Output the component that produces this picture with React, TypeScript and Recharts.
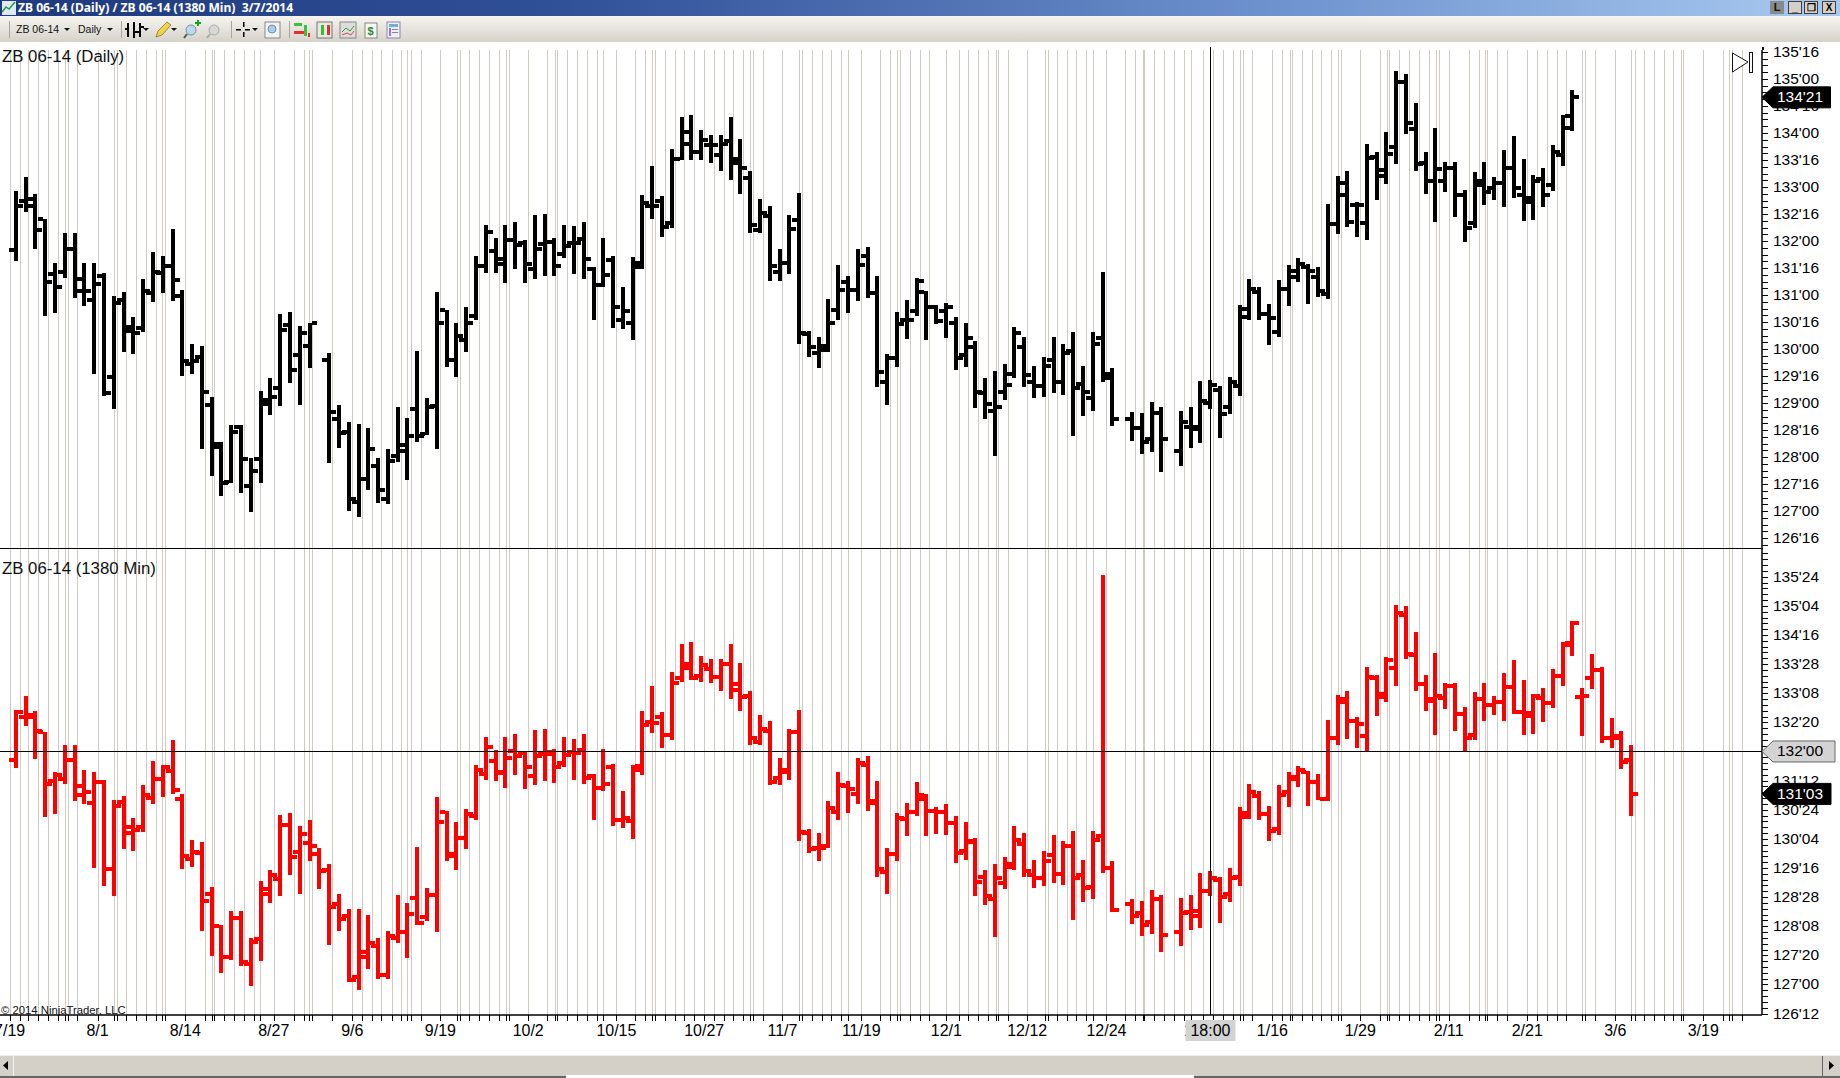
import React from 'react';
import { ComposedChart, Bar, XAxis, YAxis, ReferenceLine, CartesianGrid } from 'recharts';

const dailyOpen = [131.84,132.75,132.77,132.40,131.38,131.43,131.86,131.07,130.90,131.35,
129.49,130.90,130.40,130.38,131.03,131.41,131.54,130.99,129.72,129.85,
128.97,128.25,127.54,128.56,127.47,127.97,129.05,129.28,130.44,129.88,
130.06,null,129.80,128.71,128.47,127.16,127.60,127.84,127.22,128.02,
128.12,128.88,128.42,128.94,130.72,129.79,130.16,130.61,131.53,131.81,
131.57,132.01,131.96,131.49,131.94,131.99,131.76,131.97,132.03,131.48,
131.18,131.64,130.54,130.49,131.60,132.65,132.75,132.34,133.51,133.80,
133.64,133.77,133.59,133.86,133.44,133.17,132.20,132.46,131.43,131.59,
132.39,130.27,129.93,129.99,130.72,131.25,131.09,131.72,131.04,129.38,
129.83,130.54,130.71,131.06,130.77,130.71,130.49,129.88,130.03,129.18,
128.85,129.20,129.53,130.03,129.38,129.31,129.80,129.38,129.97,129.36,
129.10,130.20,129.47,null,128.71,128.53,128.34,128.81,null,128.12,
128.56,128.51,129.00,129.25,128.92,129.31,130.60,131.05,130.64,130.32,
131.12,131.44,131.51,131.34,131.01,132.32,133.07,132.66,132.34,133.55,
133.21,133.75,134.94,134.08,133.44,133.12,133.12,133.36,132.86,132.34,
133.12,132.99,133.08,133.36,132.86,132.79,133.14,133.03,133.60,134.31];
const dailyHigh = [132.93,133.18,132.87,132.41,131.59,132.14,132.14,131.60,131.59,131.40,
130.99,131.05,130.59,131.29,131.79,131.73,132.23,131.09,130.10,130.05,
129.12,128.27,128.59,128.59,127.99,129.23,129.46,130.64,130.68,130.42,
130.49,null,129.92,128.96,128.64,128.62,128.53,127.99,128.14,128.92,
128.73,129.96,129.09,131.05,130.73,130.49,130.77,131.73,132.29,132.05,
132.29,132.36,132.01,132.49,132.50,132.05,132.29,132.28,132.36,131.51,
132.05,131.73,131.14,131.70,132.86,133.38,132.83,133.70,134.29,134.33,
134.05,133.97,133.97,134.29,133.88,133.29,132.77,132.64,131.86,132.49,
132.88,130.33,130.23,130.92,131.55,131.36,131.86,131.88,131.36,129.90,
130.68,130.90,131.32,131.08,130.81,130.86,130.60,130.49,130.14,129.46,
129.59,129.73,130.40,130.23,129.68,129.86,130.22,130.09,130.31,129.68,
130.31,131.42,129.64,null,128.83,128.81,129.01,128.92,null,128.86,
128.92,129.40,129.42,129.31,129.49,130.81,131.29,131.14,130.83,131.27,
131.55,131.68,131.58,131.51,132.68,133.20,133.29,132.73,133.79,133.64,
134.01,135.14,135.10,134.55,133.64,134.10,133.47,133.47,132.95,133.27,
133.47,133.18,133.68,133.95,133.51,133.23,133.36,133.77,134.33,134.79];
const dailyLow = [131.64,132.54,131.86,130.62,130.67,131.30,130.93,130.80,129.53,129.12,
128.90,129.93,129.90,130.31,130.86,131.04,130.90,129.49,129.54,128.15,
127.65,127.27,127.52,127.34,126.99,127.52,128.77,128.93,129.36,128.95,
129.65,null,127.88,128.17,126.99,126.90,127.38,127.15,127.12,127.90,
127.58,128.27,128.40,128.15,129.67,129.49,129.93,130.54,131.40,131.40,
131.21,131.49,131.21,131.30,131.36,131.34,131.68,131.39,131.30,130.52,
131.14,130.39,130.36,130.16,131.49,132.40,132.08,132.23,133.49,133.50,
133.49,133.45,133.30,133.12,132.86,132.14,132.14,131.26,131.26,131.39,
130.08,129.84,129.65,129.93,130.54,130.67,130.89,130.94,129.31,128.95,
129.67,130.17,130.62,130.17,130.46,130.21,129.62,129.68,128.90,128.71,
128.02,129.07,129.46,129.31,129.09,129.12,129.18,129.15,128.39,128.76,
128.84,129.39,128.56,null,128.30,128.06,128.08,127.71,null,127.84,
128.17,128.25,128.89,128.34,128.80,129.12,130.54,130.53,130.08,130.21,
130.80,131.23,130.84,130.95,130.93,132.13,132.26,132.08,132.02,132.76,
133.04,133.41,133.99,133.30,132.86,132.36,132.91,132.45,131.99,132.23,
132.67,132.76,132.63,132.80,132.36,132.39,132.63,132.91,133.39,134.04];
const dailyClose = [132.65,132.65,132.21,131.25,131.15,131.86,131.30,131.07,131.21,129.19,
130.86,130.34,130.30,131.07,131.43,131.54,131.27,129.78,129.77,129.21,
128.19,127.52,128.47,127.97,127.75,128.98,129.12,130.35,129.62,130.29,
130.48,null,128.84,128.44,127.23,127.60,128.15,127.38,127.93,128.22,
128.38,128.38,128.93,130.49,129.79,130.25,130.48,131.53,132.16,131.66,
132.01,131.92,131.57,131.85,131.99,131.53,131.90,131.97,131.67,131.18,
131.37,130.78,130.71,131.51,132.71,132.65,132.26,133.51,134.02,133.64,
133.87,133.77,133.79,133.52,133.35,132.29,132.51,131.53,131.59,132.23,
130.29,130.03,130.05,130.49,131.09,131.09,131.55,131.04,129.57,129.84,
130.47,130.54,131.26,130.77,130.52,130.77,129.83,130.20,129.20,128.99,
128.93,129.33,130.29,129.51,129.31,129.69,129.38,129.92,129.27,129.21,
130.10,129.53,128.71,null,128.53,128.28,128.81,128.34,null,128.65,
128.56,129.04,129.34,128.79,129.38,130.75,131.12,130.64,130.57,131.12,
131.34,131.58,131.44,131.08,132.32,132.86,132.36,132.66,133.53,133.31,
133.62,134.94,134.18,133.42,133.12,133.34,133.36,132.86,132.25,133.03,
132.90,133.08,133.36,132.99,132.73,133.12,132.86,133.64,134.10,134.66];

const minOpen = [131.82,132.74,132.79,132.41,131.36,131.41,131.82,131.07,130.90,131.34,
129.48,130.91,130.38,130.37,131.01,131.40,131.59,130.99,129.70,129.83,
128.95,128.25,127.60,128.42,127.44,127.97,129.04,129.27,130.43,129.85,
130.04,129.80,129.46,128.72,128.46,127.15,127.60,127.83,127.21,127.99,
128.12,128.86,128.44,128.93,130.71,129.76,130.15,130.61,131.52,131.80,
131.54,132.00,131.96,131.48,131.94,131.99,131.76,131.99,132.03,131.47,
131.21,131.66,130.52,130.50,131.60,132.64,132.75,132.35,133.57,133.79,
133.62,133.77,133.59,133.87,133.44,133.19,132.21,132.45,131.43,131.60,
132.41,130.26,129.92,129.98,130.71,131.26,131.08,131.71,130.90,129.41,
129.81,130.56,130.71,131.06,130.73,130.71,130.46,129.86,130.05,129.30,
128.83,129.17,129.52,130.01,129.35,129.28,129.77,129.37,129.97,129.35,
129.09,130.18,129.50,null,128.72,128.53,128.33,128.83,null,128.12,
128.56,128.48,129.00,129.24,128.94,129.30,130.59,131.04,130.65,130.33,
131.13,131.40,131.55,131.34,130.99,132.28,133.06,132.65,132.34,133.57,
133.16,133.79,134.92,134.06,133.44,133.12,133.14,133.40,132.80,132.35,
133.12,132.99,133.06,133.38,132.84,132.82,133.14,133.03,133.61,134.32,
133.16,133.57,133.74,132.28,132.34,131.81];
const minHigh = [132.88,133.18,132.86,132.42,131.57,132.13,132.13,131.61,131.57,131.38,
130.95,131.04,130.58,131.29,131.79,131.72,132.24,131.08,130.11,130.05,
129.10,128.27,128.57,128.57,127.99,129.23,129.45,130.63,130.67,130.41,
130.52,129.92,129.58,128.95,128.63,128.61,128.50,127.99,128.14,128.91,
128.74,129.94,129.08,131.03,130.73,130.48,130.76,131.72,132.30,132.04,
132.30,132.37,132.02,132.47,132.48,132.05,132.31,132.27,132.37,131.51,
132.05,131.73,131.15,131.71,132.87,133.40,132.84,133.70,134.30,134.35,
134.04,133.98,133.98,134.30,133.89,133.29,132.78,132.65,131.86,132.48,
132.89,130.33,130.25,130.93,131.56,131.36,131.86,131.90,131.36,129.93,
130.68,130.89,131.34,131.09,130.80,130.87,130.61,130.48,130.14,129.46,
129.58,129.73,130.40,130.25,129.67,129.86,130.21,130.07,130.29,129.67,
130.29,135.78,129.65,null,128.83,128.79,129.02,128.92,null,128.85,
128.92,129.39,129.43,129.30,129.50,130.80,131.30,131.15,130.83,131.28,
131.55,131.68,131.58,131.51,132.67,133.21,133.29,132.73,133.81,133.64,
134.02,135.14,135.12,134.56,133.64,134.11,133.48,133.48,132.95,133.27,
133.48,133.18,133.68,133.96,133.53,133.23,133.36,133.76,134.34,134.79,
133.36,134.09,133.81,132.71,132.45,132.13];
const minLow = [131.63,132.53,131.84,130.60,130.66,131.29,130.92,130.88,129.50,129.10,
128.88,129.91,129.87,130.28,130.86,131.03,131.09,129.46,129.53,128.13,
127.62,127.25,127.51,127.38,126.97,127.51,128.75,128.90,129.35,128.95,
129.63,129.05,127.85,128.15,127.07,126.87,127.34,127.12,127.10,127.88,
127.55,128.26,128.37,128.13,129.66,129.46,129.91,130.54,131.37,131.37,
131.20,131.48,131.20,131.29,131.36,131.31,131.66,131.38,131.29,130.52,
131.14,130.39,130.35,130.13,131.49,132.39,132.06,132.24,133.48,133.54,
133.48,133.46,133.29,133.12,132.86,132.13,132.13,131.27,131.27,131.38,
130.07,129.81,129.64,129.92,130.54,130.67,130.88,130.73,129.30,128.95,
129.66,130.18,130.61,130.18,130.22,130.20,129.60,129.66,128.89,128.70,
128.01,129.04,129.46,129.30,129.06,129.10,129.17,129.13,128.37,128.77,
128.83,129.39,128.55,null,128.29,128.03,128.08,127.69,null,127.82,
128.16,128.22,128.89,128.31,128.78,129.11,130.55,130.52,130.07,130.20,
130.80,131.23,130.82,130.95,130.93,132.13,132.26,132.06,132.00,132.77,
133.05,133.41,133.98,133.29,132.86,132.36,132.92,132.45,131.98,132.23,
132.66,132.77,132.64,132.80,132.36,132.38,132.64,132.92,133.39,134.04,
132.32,133.33,132.17,132.06,131.63,130.60];
const minClose = [132.85,132.74,132.43,131.31,131.49,131.82,131.26,131.14,131.35,129.48,
130.83,130.25,130.31,131.07,131.41,131.66,131.18,129.76,129.85,128.80,
128.25,127.60,128.42,127.49,127.92,128.95,129.34,130.43,129.74,130.22,
129.98,129.43,128.67,128.40,127.10,127.70,127.90,127.21,128.05,128.12,
128.52,128.31,128.93,130.48,129.80,130.15,130.65,131.61,132.09,131.55,
131.86,131.91,131.66,131.91,131.94,131.66,131.92,131.96,131.43,131.21,
131.31,130.52,130.58,131.69,132.56,132.62,132.36,133.46,133.87,133.57,
133.85,133.59,133.87,133.31,133.16,132.29,132.49,131.34,131.56,132.41,
130.27,129.90,129.92,130.78,131.28,131.19,131.75,130.93,129.48,129.81,
130.58,130.71,130.99,130.73,130.71,130.46,129.83,130.07,129.20,128.90,
129.29,129.58,130.10,129.43,129.28,129.64,129.37,129.97,129.28,129.07,
130.10,129.50,128.59,null,128.46,128.27,128.83,128.07,null,128.53,
128.58,129.00,129.28,128.87,129.28,130.68,131.13,130.65,130.29,131.06,
131.45,131.60,131.34,130.99,132.28,133.12,132.65,132.58,133.59,133.23,
133.96,134.97,134.09,133.44,133.08,133.18,133.40,132.80,132.28,133.12,
132.99,133.06,133.38,132.84,132.76,133.18,133.03,133.61,134.28,134.75,
133.20,133.74,132.28,132.28,131.77,131.09];

// session slots (bar number on the time axis) of the vertical grid lines
const gridSlots = [-0.63,0.39,1.27,2.29,3.31,4.33,5.07,5.35,6.30,8.35,10.06,10.38,11.30,12.32,13.33,14.35,14.98,15.27,17.31,19.35,20.02,20.27,21.29,22.31,23.32,24.34,24.97,26.35,28.39,29.41,29.94,30.26,32.33,34.37,35.32,36.34,37.35,38.38,39.37,40.0,40.32,41.34,43.37,45.07,45.37,46.33,47.34,48.37,49.39,50.06,50.34,52.34,
54.28,55.06,55.30,56.32,57.34,58.37,59.35,60.01,61.35,63.29,64.31,65.0,65.32,66.35,67.37,68.28,69.30,70.32,71.34,72.36,73.28,74.30,75.04,75.31,76.33,78.31,80.03,80.35,81.37,82.39,83.30,84.32,85.03,86.37,88.29,89.31,90.02,90.34,91.32,92.34,93.33,95.05,96.38,97.30,98.31,99.33,100.08,100.36,101.38,103.31,105.11,105.43,106.4,107.42,108.31,109.33,110.07,111.41,113.34,114.36,115.09,115.28,116.3,117.3,118.33,119.35,120.03,121.3,122.3,123.33,124.35,125.09,125.37,126.32,128.36,129.38,130.15,130.4,131.35,132.37,133.36,134.38,135.08,135.39,137.33,139.38,140.11,140.28,141.31,142.33,143.35,144.36,145.07,145.38,146.37,148.41,149.43,150.03,150.31,151.33,152.35,154.39,155.41,156.36,157.38,158.4,160.02,160.33,161.36,163.38,165.02,165.36,166.34,167.36,168.38,169.3,170.06,170.32,172.37,174.35,175.03,175.33,176.35];
const dateLabels: [number, string][] = [[-0.63,'7/19'],[8.35,'8/1'],[17.31,'8/14'],[26.35,'8/27'],[34.37,'9/6'],[43.37,'9/19'],[52.34,'10/2'],[61.35,'10/15'],[70.32,'10/27'],[78.31,'11/7'],[86.37,'11/19'],[95.05,'12/1'],[103.31,'12/12'],[111.41,'12/24'],[128.36,'1/16'],[137.33,'1/29'],[146.37,'2/11'],[154.39,'2/21'],[163.38,'3/6'],[172.37,'3/19']];
const hiddenDateSlot = 120.45;
const hiddenDate = '1/3';
const cursorSlot = 122.03;
const cursorTime = '18:00';
const cursorPrice = 132;
const lastDaily = 134.66;
const lastMin = 131.09;
const lastDailyText = "134'21";
const lastMinText = "131'03";

const slotDomain = [-1.614, 178.37];
const dailyDomain = [126.315, 135.537];
const minDomain = [126.345, 136.345];

const buildTable = (o: any[], h: any[], l: any[], c: any[]) =>
  o.map((v, i) => ({ slot: i, open: v, high: h[i], low: l[i], close: c[i], range: [l[i], h[i]] })).filter((r) => r.open !== null);
const dailyRows = buildTable(dailyOpen, dailyHigh, dailyLow, dailyClose);
const minRows = buildTable(minOpen, minHigh, minLow, minClose);

const range = (from: number, to: number, step: number) => {
  const out: number[] = [];
  for (let k = 0; from + k * step <= to + 1e-9; k++) out.push(from + k * step);
  return out;
};
const fmt = (v: number) => {
  const whole = Math.floor(v + 1e-9);
  const t = Math.round((v - whole) * 32);
  return `${whole}'${String(t).padStart(2, '0')}`;
};
const FONT = '"Liberation Sans", Arial, sans-serif';

const OhlcShape = (color: string, stem: number, thick: number, arm: number) => (p: any) => {
  const { x, y, width, height, payload } = p;
  const cx = Math.round(x + width / 2);
  const top = Math.min(y, y + height);
  const h = Math.abs(height);
  const k = h / (payload.high - payload.low);
  const oy = top + (payload.high - payload.open) * k;
  const cy = top + (payload.high - payload.close) * k;
  const left = cx - Math.floor(stem / 2);
  return (
    <g shapeRendering="crispEdges" fill={color}>
      <rect x={left} y={Math.round(top)} width={stem} height={Math.max(1, Math.round(h))} />
      <rect x={left - arm} y={Math.round(oy - thick / 2)} width={arm} height={thick} />
      <rect x={left + stem} y={Math.round(cy - thick / 2)} width={arm} height={thick} />
    </g>
  );
};

const Flag = ({ x, y, text, fill, ink, edge, right }: any) => {
  const tip = x;
  const body = x + 11;
  return (
    <g>
      <polygon
        points={`${tip},${y} ${body},${y - 10.5} ${right},${y - 10.5} ${right},${y + 10.5} ${body},${y + 10.5}`}
        fill={fill}
        stroke={edge}
        strokeWidth={1}
      />
      <text x={body + 4} y={y + 5} fontFamily={FONT} fontSize={15.5} fill={ink}>
        {text}
      </text>
    </g>
  );
};

const priceTick = (majors: Set<string>, flags: any) => (p: any) => {
  const v = p.payload.value;
  const key = v.toFixed(3);
  const f = flags[key];
  if (f && p.index >= p.visibleTicksCount - Object.keys(flags).length) {
    return <Flag x={p.x} y={p.y} {...f} />;
  }
  return (
    <g>
      <line x1={p.x} x2={p.x + 6} y1={Math.round(p.y) + 0.5} y2={Math.round(p.y) + 0.5} stroke="#000" />
      {majors.has(key) ? (
        <text x={p.x + 11} y={p.y + 5} fontFamily={FONT} fontSize={15.5} fill="#000">
          {fmt(v)}
        </text>
      ) : null}
    </g>
  );
};

const labelBySlot = new Map(dateLabels);

const timeTick = (p: any) => {
  const v = p.payload.value;
  if (v === cursorSlot) {
    return (
      <g>
        <rect x={p.x - 25} y={p.y + 5} width={50} height={21} fill="#d3d3d3" />
        <text x={p.x} y={p.y + 21} textAnchor="middle" fontFamily={FONT} fontSize={16} fill="#000">
          {cursorTime}
        </text>
      </g>
    );
  }
  if (v === hiddenDateSlot) {
    return (
      <text x={p.x} y={p.y + 21} textAnchor="middle" fontFamily={FONT} fontSize={16} fill="#000">
        {hiddenDate}
      </text>
    );
  }
  const label = labelBySlot.get(v);
  return (
    <g>
      <line x1={Math.round(p.x) + 0.5} x2={Math.round(p.x) + 0.5} y1={p.y} y2={p.y + 6} stroke="#000" />
      {label ? (
        <text x={p.x} y={p.y + 21} textAnchor="middle" fontFamily={FONT} fontSize={16} fill="#000">
          {label}
        </text>
      ) : null}
    </g>
  );
};

// vertical session lines, placed through the chart's own x scale
const gridXs = ({ xAxis, offset }: any) =>
  gridSlots.map((s) => {
    const scale = xAxis && typeof xAxis.scale === 'function' ? xAxis.scale : null;
    const x = scale ? scale(s) : offset.left + ((s - slotDomain[0]) / (slotDomain[1] - slotDomain[0])) * offset.width;
    return Math.round(x) + 0.5;
  });

const dailyMajors = range(126.5, 135.5, 0.5);
const dailyTicks = [...range(126.375, 135.5, 0.125), lastDaily];
const minMajors = range(126.375, 135.75, 0.625).filter((v) => v !== cursorPrice);
const minTicks = [...range(126.375, 136.25, 0.125).filter((v) => v !== cursorPrice), cursorPrice, lastMin];

const dailyFlags = {
  [lastDaily.toFixed(3)]: { text: lastDailyText, fill: '#000', ink: '#fff', edge: '#000', right: 1830.5 },
};
const minFlags = {
  [cursorPrice.toFixed(3)]: { text: fmt(cursorPrice), fill: '#d3d3d3', ink: '#000', edge: '#666', right: 1835 },
  [lastMin.toFixed(3)]: { text: lastMinText, fill: '#000', ink: '#fff', edge: '#000', right: 1831 },
};

const abs = (left: number, top: number, width: number, height: number, extra: any = {}) => ({
  position: 'absolute' as const,
  left,
  top,
  width,
  height,
  ...extra,
});

const WinButton = ({ left, glyph }: { left: number; glyph: string }) => (
  <div
    style={abs(left, 1, 14, 13, {
      background: '#d4d0c8',
      border: '1px solid #404040',
      boxSizing: 'border-box',
      font: `bold 10px/11px ${FONT}`,
      textAlign: 'center',
      color: '#000',
    })}
  >
    {glyph}
  </div>
);

const Toolbar = () => (
  <svg style={abs(0, 16, 1840, 26)} width={1840} height={26}>
    <defs>
      <linearGradient id="tb" x1="0" y1="0" x2="0" y2="1">
        <stop offset="0" stopColor="#f6f5f0" />
        <stop offset="1" stopColor="#d5d2ca" />
      </linearGradient>
    </defs>
    <rect width={1840} height={26} fill="url(#tb)" />
    {[9, 121, 231, 289].map((x) => (
      <line key={x} x1={x + 0.5} x2={x + 0.5} y1={5} y2={22} stroke="#a8a59d" />
    ))}
    <text x={16} y={17} fontFamily={FONT} fontSize={10.5} fill="#111">ZB 06-14</text>
    <text x={78} y={17} fontFamily={FONT} fontSize={10.5} fill="#111">Daily</text>
    {[64, 107, 143, 171, 252].map((x) => (
      <polygon key={x} points={`${x},12 ${x + 6},12 ${x + 3},15`} fill="#111" />
    ))}
    <g fill="#000">
      <rect x={127} y={7} width={2} height={14} />
      <rect x={133} y={6} width={2} height={16} />
      <rect x={139} y={7} width={2} height={14} />
      <rect x={125} y={12} width={4} height={2} />
      <rect x={135} y={15} width={4} height={2} />
      <rect x={141} y={10} width={3} height={2} />
    </g>
    <polygon points="156,21 158,15 167,6 171,9 162,19" fill="#f2d24a" stroke="#7a6a20" strokeWidth={0.7} />
    <circle cx={191} cy={14} r={5} fill="#bcd7ef" stroke="#7c8ea0" />
    <line x1={187} y1={18} x2={184} y2={22} stroke="#555" strokeWidth={2} />
    <rect x={195} y={6} width={6} height={2} fill="#15a515" />
    <rect x={197} y={4} width={2} height={6} fill="#15a515" />
    <circle cx={214} cy={14} r={5} fill="#d8d8d8" stroke="#aaa" />
    <line x1={210} y1={18} x2={207} y2={22} stroke="#aaa" strokeWidth={2} />
    <g fill="#000">
      <rect x={236} y={13} width={5} height={1.5} />
      <rect x={245} y={13} width={5} height={1.5} />
      <rect x={243} y={6} width={1.5} height={5} />
      <rect x={243} y={16} width={1.5} height={5} />
    </g>
    <rect x={265} y={6} width={15} height={16} fill="#f2f2f2" stroke="#8a8a8a" />
    <circle cx={272} cy={13} r={4} fill="#a9cdea" stroke="#7c8ea0" />
    <g>
      <rect x={294} y={7} width={8} height={3} fill="#3fbf3f" />
      <rect x={294} y={15} width={12} height={3} fill="#e03030" />
      <rect x={304} y={9} width={3} height={11} fill="#3fbf3f" />
      <rect x={308} y={17} width={2} height={4} fill="#e03030" />
      <rect x={317} y={6} width={15} height={16} fill="#e9e7e0" stroke="#777" />
      <rect x={321} y={9} width={3} height={10} fill="#30c030" />
      <rect x={327} y={9} width={3} height={10} fill="#e03030" />
      <rect x={340} y={6} width={16} height={16} fill="#ddd" stroke="#888" />
      <polyline points="342,16 346,12 350,15 354,10" fill="none" stroke="#3a9a3a" />
      <polyline points="342,19 347,17 351,19 354,15" fill="none" stroke="#d05050" />
      <rect x={365} y={7} width={12} height={15} fill="#f6f6f2" stroke="#888" />
      <text x={367.5} y={19} fontFamily={FONT} fontSize={11} fontWeight="bold" fill="#2a8a2a">$</text>
      <rect x={387} y={6} width={13} height={16} fill="#eef" stroke="#8a8aa0" />
      <rect x={389} y={8} width={9} height={3} fill="#6fb0d8" />
      <rect x={389} y={12} width={2} height={8} fill="#a070e0" />
      <rect x={392} y={13} width={6} height={1} fill="#888" />
      <rect x={392} y={16} width={6} height={1} fill="#888" />
    </g>
  </svg>
);

export default function App() {
  return (
    <div style={abs(0, 0, 1840, 1078, { background: '#fff', overflow: 'hidden' })}>
      {/* window chrome */}
      <div
        style={abs(0, 0, 1840, 16, {
          background: 'linear-gradient(90deg,#1f3a7d 0%,#2f4f97 30%,#6f93cf 70%,#a8caf0 100%)',
        })}
      />
      <svg style={abs(2, 1, 14, 14)} width={14} height={14}>
        <rect width={14} height={14} fill="#dfe8f5" />
        <polyline points="0,11 4,6 7,8 13,1" fill="none" stroke="#2b9a3a" strokeWidth={1.5} />
      </svg>
      <div
        style={abs(18, 0, 400, 16, {
          color: '#fff',
          font: `bold 12.1px/16px "Noto Sans", sans-serif`,
          whiteSpace: 'pre',
        })}
      >
        {'ZB 06-14 (Daily) / ZB 06-14 (1380 Min)  3/7/2014'}
      </div>
      <div style={abs(1770, 1, 14, 13, { background: '#8a8a8a', font: `bold 11px/13px ${FONT}`, textAlign: 'center', color: '#111' })}>L</div>
      <WinButton left={1788} glyph="_" />
      <WinButton left={1804} glyph="❐" />
      <WinButton left={1822} glyph="X" />
      <Toolbar />

      {/* upper panel */}
      <div style={abs(0, 42, 1840, 506)}>
        <ComposedChart
          width={1840}
          height={506}
          data={dailyRows}
          margin={{ top: 8, right: 0, bottom: 0, left: 0 }}
        >
          <CartesianGrid
            horizontal={false}
            stroke="#d0ccc4"
            strokeWidth={1}
            shapeRendering="crispEdges"
            verticalCoordinatesGenerator={gridXs}
          />
          <XAxis dataKey="slot" type="number" domain={slotDomain} allowDataOverflow hide />
          <YAxis
            orientation="right"
            width={78}
            type="number"
            domain={dailyDomain}
            allowDataOverflow
            ticks={dailyTicks}
            interval={0}
            tickLine={false}
            tickSize={0}
            tickMargin={0}
            axisLine={{ stroke: '#000', strokeWidth: 1.5 }}
            tick={priceTick(new Set(dailyMajors.map((v) => v.toFixed(3))), dailyFlags)}
          />
          <Bar
            dataKey="range"
            barSize={4}
            isAnimationActive={false}
            shape={OhlcShape('#000', 4, 4, 5)}
          />
          <ReferenceLine x={cursorSlot} stroke="#000" strokeWidth={1} shapeRendering="crispEdges" />
        </ComposedChart>
      </div>

      {/* lower panel */}
      <div style={abs(0, 549, 1840, 529)}>
        <ComposedChart
          width={1840}
          height={529}
          data={minRows}
          margin={{ top: 0, right: 0, bottom: 33, left: 0 }}
        >
          <CartesianGrid
            horizontal={false}
            stroke="#d0ccc4"
            strokeWidth={1}
            shapeRendering="crispEdges"
            verticalCoordinatesGenerator={gridXs}
          />
          <XAxis
            dataKey="slot"
            type="number"
            domain={slotDomain}
            allowDataOverflow
            height={30}
            ticks={[...gridSlots, hiddenDateSlot, cursorSlot]}
            interval={0}
            tickLine={false}
            tickSize={0}
            tickMargin={0}
            axisLine={{ stroke: '#000', strokeWidth: 1.5 }}
            tick={timeTick}
          />
          <YAxis
            orientation="right"
            width={78}
            type="number"
            domain={minDomain}
            allowDataOverflow
            ticks={minTicks}
            interval={0}
            tickLine={false}
            tickSize={0}
            tickMargin={0}
            axisLine={{ stroke: '#000', strokeWidth: 1.5 }}
            tick={priceTick(new Set(minMajors.map((v) => v.toFixed(3))), minFlags)}
          />
          <Bar
            dataKey="range"
            barSize={4}
            isAnimationActive={false}
            shape={OhlcShape('#ff0000', 4, 4, 5)}
          />
          <ReferenceLine x={cursorSlot} stroke="#000" strokeWidth={1} shapeRendering="crispEdges" />
          <ReferenceLine y={cursorPrice} stroke="#000" strokeWidth={1} shapeRendering="crispEdges" />
        </ComposedChart>
      </div>

      {/* panel divider and short extensions above the upper plot */}
      <div style={abs(0, 548, 1763, 1, { background: '#000' })} />
      <div style={abs(1762, 47, 1.5, 3, { background: '#000' })} />
      <div style={abs(1210, 47, 1, 3, { background: '#000' })} />

      {/* panel captions */}
      <div style={abs(2, 47, 300, 20, { font: `16.8px/20px ${FONT}`, color: '#111' })}>ZB 06-14 (Daily)</div>
      <div style={abs(2, 559, 300, 20, { font: `16.8px/20px ${FONT}`, color: '#111' })}>ZB 06-14 (1380 Min)</div>
      <div style={abs(1, 1003, 200, 14, { font: `11.3px/14px ${FONT}`, color: '#111', whiteSpace: 'nowrap' })}>© 2014 NinjaTrader, LLC</div>

      {/* go-to-last-bar marker */}
      <svg style={abs(1730, 50, 26, 24)} width={26} height={24}>
        <polygon points="2.5,3 18,12 2.5,22" fill="#fff" stroke="#111" />
        <rect x={19.5} y={2.5} width={3} height={20} fill="#fff" stroke="#111" />
      </svg>

      {/* scrollbar */}
      <div style={abs(0, 1055, 1840, 23, { background: '#d4d0c8', borderTop: '1px solid #eee', boxSizing: 'border-box' })} />
      <div style={abs(0, 1076, 1840, 2, { background: '#666' })} />
      <div style={abs(566, 1075, 628, 3, { background: '#fff' })} />
      <div style={abs(13, 1056, 1, 20, { background: '#f4f2ec' })} />
      <div style={abs(1822, 1056, 1, 20, { background: '#666' })} />
      <svg style={abs(0, 1056, 13, 20)} width={13} height={20}>
        <polygon points="3,9.5 8,5 8,14" fill="#000" />
      </svg>
      <svg style={abs(1823, 1056, 17, 20)} width={17} height={20}>
        <polygon points="11,9.5 6,5 6,14" fill="#000" />
      </svg>
    </div>
  );
}
